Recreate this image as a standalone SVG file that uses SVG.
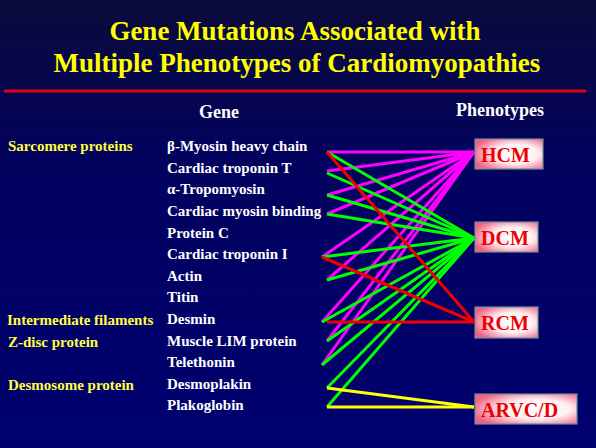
<svg xmlns="http://www.w3.org/2000/svg" width="596" height="448" viewBox="0 0 596 448" font-family="'Liberation Serif', 'DejaVu Serif', 'Times New Roman', serif">
<defs>
<linearGradient id="bg" x1="0" y1="0" x2="0" y2="1">
<stop offset="0" stop-color="#0b0b3a"/>
<stop offset="0.35" stop-color="#02025e"/>
<stop offset="1" stop-color="#000070"/>
</linearGradient>
<radialGradient id="boxg" cx="0.6" cy="0.5" r="0.65">
<stop offset="0" stop-color="#ffffff"/>
<stop offset="0.5" stop-color="#fff0f4"/>
<stop offset="1" stop-color="#ef6383"/>
</radialGradient>
<style>
.title{font-weight:bold;font-size:27px;fill:#ffff00;text-anchor:middle}
.hdr{font-weight:bold;font-size:18px;fill:#ffffff;text-anchor:middle}
.cat{font-weight:bold;font-size:15px;fill:#ffff40}
.gene{font-weight:bold;font-size:15px;fill:#ffffff}
.box{fill:url(#boxg);stroke:#6f8f9f;stroke-width:1.2}
.btxt{font-weight:bold;font-size:20px;fill:#ee0000}
.m{stroke:#ff00ff;stroke-width:3;fill:none}
.g{stroke:#00ff00;stroke-width:3;fill:none}
.r{stroke:#ee0000;stroke-width:3;fill:none}
.y{stroke:#ffff00;stroke-width:3;fill:none}
</style>
</defs>
<rect x="0" y="0" width="596" height="448" fill="url(#bg)"/>
<g id="title">
<text class="title" x="295" y="40">Gene Mutations Associated with</text>
<text class="title" x="297" y="72">Multiple Phenotypes of Cardiomyopathies</text>
<line x1="4" y1="91" x2="586" y2="91" stroke="#e00010" stroke-width="3"/>
</g>
<g id="headers">
<text class="hdr" x="219" y="118">Gene</text>
<text class="hdr" x="500" y="116">Phenotypes</text>
</g>
<g id="categories">
<text class="cat" x="8" y="151">Sarcomere proteins</text>
<text class="cat" x="7" y="325">Intermediate filaments</text>
<text class="cat" x="8" y="347">Z-disc protein</text>
<text class="cat" x="8" y="390">Desmosome protein</text>
</g>
<g id="genes">
<text class="gene" x="167" y="151">β-Myosin heavy chain</text>
<text class="gene" x="167" y="173">Cardiac troponin T</text>
<text class="gene" x="167" y="194">α-Tropomyosin</text>
<text class="gene" x="167" y="216">Cardiac myosin binding</text>
<text class="gene" x="167" y="238">Protein C</text>
<text class="gene" x="167" y="259">Cardiac troponin I</text>
<text class="gene" x="167" y="281">Actin</text>
<text class="gene" x="167" y="302">Titin</text>
<text class="gene" x="167" y="324">Desmin</text>
<text class="gene" x="167" y="346">Muscle LIM protein</text>
<text class="gene" x="167" y="367">Telethonin</text>
<text class="gene" x="167" y="389">Desmoplakin</text>
<text class="gene" x="167" y="410">Plakoglobin</text>
</g>
<g id="connectors">
<line class="m" x1="327" y1="152" x2="474" y2="152"/>
<line class="m" x1="327" y1="171" x2="474" y2="152"/>
<line class="m" x1="327" y1="195" x2="474" y2="152"/>
<line class="m" x1="327" y1="214" x2="474" y2="152"/>
<line class="m" x1="322" y1="257" x2="474" y2="152"/>
<line class="m" x1="327" y1="280" x2="474" y2="152"/>
<line class="m" x1="322" y1="322" x2="474" y2="152"/>
<line class="m" x1="327" y1="341" x2="474" y2="152"/>
<line class="m" x1="322" y1="365" x2="474" y2="152"/>
<line class="g" x1="327" y1="152" x2="474" y2="238"/>
<line class="g" x1="327" y1="173" x2="474" y2="238"/>
<line class="g" x1="327" y1="195" x2="474" y2="238"/>
<line class="g" x1="327" y1="214" x2="474" y2="238"/>
<line class="g" x1="322" y1="257" x2="474" y2="238"/>
<line class="g" x1="327" y1="280" x2="474" y2="238"/>
<line class="g" x1="322" y1="322" x2="474" y2="238"/>
<line class="g" x1="327" y1="341" x2="474" y2="238"/>
<line class="g" x1="322" y1="365" x2="474" y2="238"/>
<line class="g" x1="327" y1="388" x2="474" y2="238"/>
<line class="g" x1="327" y1="407" x2="474" y2="238"/>
<line class="y" x1="327" y1="388" x2="474" y2="407"/>
<line class="y" x1="327" y1="407" x2="474" y2="407"/>
<line class="r" x1="327" y1="152" x2="474" y2="322"/>
<line class="r" x1="322" y1="257" x2="474" y2="322"/>
<line class="r" x1="327" y1="322" x2="474" y2="322"/>
</g>
<g id="hcm">
<rect class="box" x="475" y="139" width="68" height="30"/>
<text class="btxt" x="481" y="162">HCM</text>
</g>
<g id="dcm">
<rect class="box" x="475" y="222" width="63" height="30"/>
<text class="btxt" x="481" y="245">DCM</text>
</g>
<g id="rcm">
<rect class="box" x="475" y="307" width="63" height="31"/>
<text class="btxt" x="481" y="330">RCM</text>
</g>
<g id="arvcd">
<rect class="box" x="475" y="394" width="102" height="30"/>
<text class="btxt" x="481" y="417">ARVC/D</text>
</g>
</svg>
